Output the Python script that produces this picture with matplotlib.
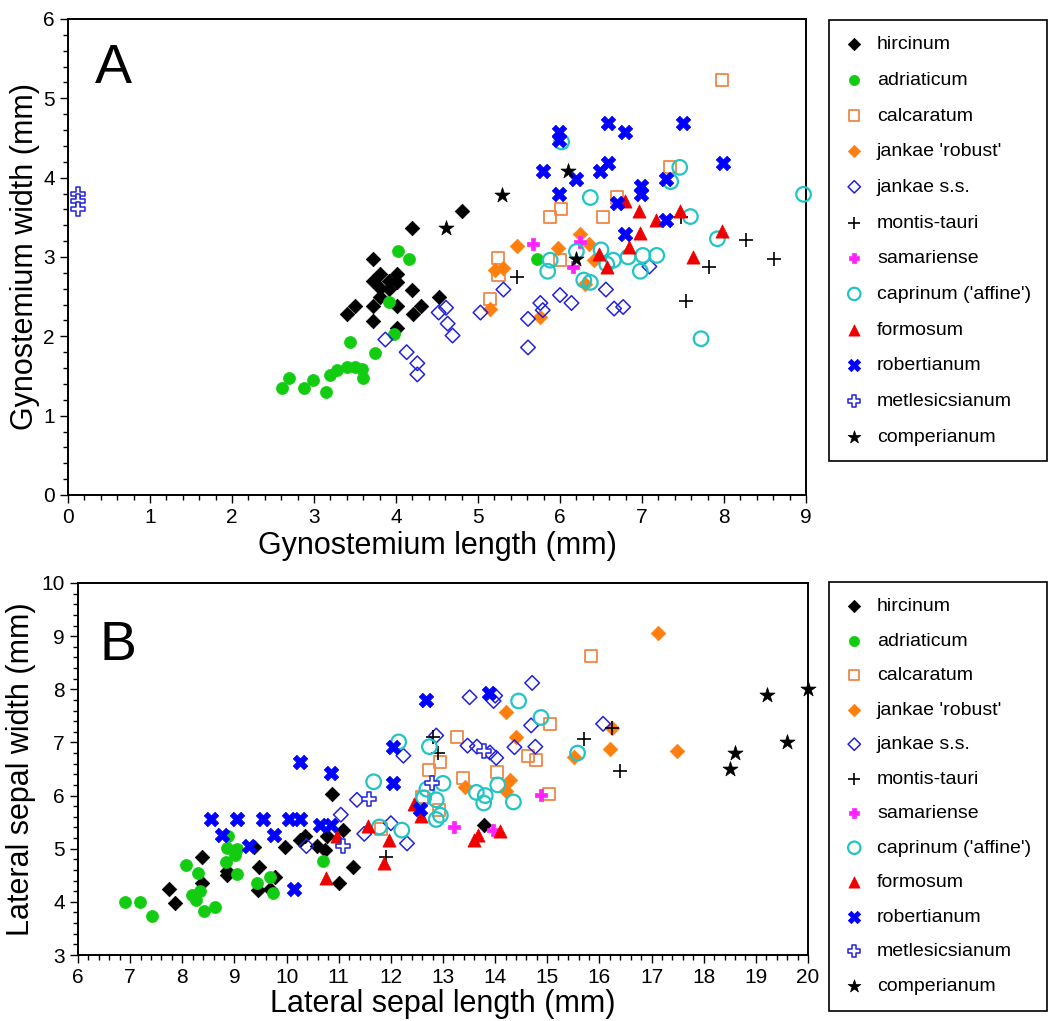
import matplotlib.pyplot as plt
from matplotlib.ticker import MultipleLocator

plt.rcParams['font.family'] = ['Liberation Sans', 'DejaVu Sans']

# ---- data: panel A (gynostemium length / width, mm) ----
hircinum_A_x = [4.80, 4.20, 3.72, 3.80, 4.01, 3.72, 3.91, 4.01, 3.80, 3.91, 4.20, 3.80, 4.01, 3.72, 3.50, 3.40, 4.30, 4.21, 4.52, 3.72, 4.01]
hircinum_A_y = [3.58, 3.37, 2.97, 2.79, 2.78, 2.70, 2.70, 2.69, 2.61, 2.60, 2.59, 2.49, 2.38, 2.38, 2.38, 2.28, 2.38, 2.28, 2.49, 2.19, 2.10]
adriaticum_A_x = [4.02, 4.16, 3.91, 3.98, 3.44, 3.74, 3.20, 3.28, 3.40, 3.50, 3.58, 3.60, 3.15, 2.99, 2.88, 2.69, 2.61, 5.72]
adriaticum_A_y = [3.07, 2.97, 2.43, 2.03, 1.93, 1.79, 1.51, 1.58, 1.61, 1.61, 1.59, 1.48, 1.30, 1.45, 1.35, 1.47, 1.35, 2.97]
calcaratum_A_x = [7.98, 7.34, 6.70, 6.01, 5.88, 6.52, 5.24, 6.00, 5.25, 5.15]
calcaratum_A_y = [5.23, 4.13, 3.75, 3.61, 3.50, 3.51, 2.99, 2.96, 2.77, 2.47]
robust_A_x = [5.48, 5.98, 6.24, 6.35, 6.41, 5.21, 5.30, 5.15, 5.76, 6.30]
robust_A_y = [3.14, 3.11, 3.29, 3.17, 2.96, 2.84, 2.86, 2.35, 2.24, 2.66]
jankae_A_x = [3.87, 4.13, 4.26, 4.26, 4.52, 4.61, 4.63, 4.69, 5.03, 5.31, 5.61, 5.61, 5.76, 5.79, 6.00, 6.14, 6.56, 6.66, 6.77, 7.09]
jankae_A_y = [1.96, 1.80, 1.66, 1.52, 2.30, 2.36, 2.16, 2.01, 2.30, 2.59, 2.22, 1.86, 2.42, 2.33, 2.52, 2.42, 2.59, 2.35, 2.37, 2.88]
montis_A_x = [5.48, 7.48, 8.27, 8.61, 7.82, 7.54]
montis_A_y = [2.75, 3.51, 3.21, 2.98, 2.87, 2.44]
samariense_A_x = [5.67, 6.24, 6.16]
samariense_A_y = [3.17, 3.19, 2.88]
caprinum_A_x = [6.02, 7.46, 7.35, 6.37, 7.59, 7.92, 8.97, 7.72, 5.88, 5.85, 6.20, 6.50, 6.65, 6.57, 6.83, 7.01, 7.18, 6.98, 6.29, 6.37]
caprinum_A_y = [4.45, 4.13, 3.95, 3.75, 3.51, 3.23, 3.79, 1.97, 2.96, 2.82, 3.07, 3.09, 2.96, 2.91, 3.00, 3.02, 3.02, 2.82, 2.71, 2.68]
formosum_A_x = [6.79, 6.96, 7.17, 7.46, 6.97, 6.84, 7.97, 6.48, 6.57, 7.62]
formosum_A_y = [3.70, 3.58, 3.47, 3.58, 3.30, 3.13, 3.33, 3.04, 2.87, 3.00]
robertianum_A_x = [5.99, 5.99, 6.59, 6.79, 7.50, 7.99, 5.79, 6.20, 6.49, 6.59, 5.99, 6.99, 6.99, 7.29, 6.69, 7.29, 6.79]
robertianum_A_y = [4.58, 4.47, 4.69, 4.58, 4.69, 4.18, 4.09, 3.98, 4.09, 4.18, 3.79, 3.89, 3.79, 3.98, 3.68, 3.47, 3.29]
metlesics_A_x = [0.12, 0.12, 0.12]
metlesics_A_y = [3.80, 3.70, 3.60]
comperianum_A_x = [4.61, 5.29, 6.10, 6.20]
comperianum_A_y = [3.37, 3.78, 4.09, 2.97]

# ---- data: panel B (lateral sepal length / width, mm) ----
hircinum_B_x = [10.87, 10.36, 10.25, 10.77, 10.58, 10.74, 11.08, 9.97, 9.38, 8.37, 9.48, 8.85, 8.85, 9.78, 8.37, 9.46, 9.69, 7.75, 7.86, 11.27, 11.00, 13.78]
hircinum_B_y = [6.03, 5.23, 5.16, 5.23, 5.06, 4.97, 5.36, 5.03, 5.03, 4.84, 4.66, 4.59, 4.50, 4.47, 4.35, 4.22, 4.25, 4.25, 3.97, 4.66, 4.35, 5.45]
adriaticum_B_x = [8.88, 8.86, 9.05, 9.01, 8.84, 9.05, 8.07, 8.30, 9.69, 9.43, 9.74, 8.34, 8.18, 8.26, 8.63, 8.42, 7.41, 7.18, 6.90, 10.70]
adriaticum_B_y = [5.23, 5.02, 5.00, 4.88, 4.75, 4.53, 4.69, 4.54, 4.47, 4.35, 4.16, 4.20, 4.13, 4.03, 3.91, 3.83, 3.74, 4.00, 3.99, 4.76]
calcaratum_B_x = [15.83, 15.06, 13.27, 14.63, 14.79, 12.95, 12.74, 14.04, 13.38, 15.04, 12.60, 12.93, 11.81]
calcaratum_B_y = [8.62, 7.35, 7.10, 6.75, 6.67, 6.64, 6.49, 6.44, 6.33, 6.03, 5.98, 5.72, 5.38]
robust_B_x = [14.20, 14.40, 14.28, 14.21, 13.42, 16.20, 15.51, 16.24, 17.12, 17.48]
robust_B_y = [7.58, 7.11, 6.30, 6.08, 6.17, 6.88, 6.73, 7.28, 9.05, 6.83]
jankae_B_x = [14.71, 13.51, 14.00, 13.97, 14.69, 16.07, 12.87, 12.24, 13.47, 13.65, 13.90, 14.02, 14.37, 14.77, 12.00, 11.49, 12.31, 11.04, 11.35, 10.38]
jankae_B_y = [8.12, 7.85, 7.88, 7.78, 7.32, 7.35, 7.13, 6.75, 6.94, 6.92, 6.81, 6.71, 6.91, 6.92, 5.48, 5.28, 5.10, 5.64, 5.92, 5.05]
montis_B_x = [15.70, 16.40, 16.24, 12.81, 12.90, 11.90]
montis_B_y = [7.07, 6.47, 7.28, 7.11, 6.80, 4.85]
samariense_B_x = [14.87, 13.22, 13.96]
samariense_B_y = [6.01, 5.41, 5.36]
caprinum_B_x = [14.45, 14.88, 12.15, 12.74, 13.00, 12.69, 11.67, 14.05, 13.64, 13.81, 13.78, 14.35, 12.87, 12.63, 12.95, 12.87, 12.21, 11.78, 15.58]
caprinum_B_y = [7.78, 7.47, 7.01, 6.92, 6.23, 6.12, 6.26, 6.20, 6.06, 6.00, 5.86, 5.88, 5.92, 5.96, 5.63, 5.55, 5.35, 5.41, 6.80]
formosum_B_x = [10.96, 10.76, 11.57, 12.44, 12.57, 11.97, 13.59, 13.68, 14.09, 11.86]
formosum_B_y = [5.23, 4.45, 5.43, 5.85, 5.61, 5.16, 5.16, 5.25, 5.33, 4.74]
robertianum_B_x = [10.25, 10.85, 8.55, 9.05, 9.54, 10.04, 10.26, 10.64, 10.85, 8.76, 9.75, 9.27, 10.15, 12.68, 13.88, 12.05, 12.05, 12.56]
robertianum_B_y = [6.63, 6.43, 5.55, 5.55, 5.55, 5.55, 5.55, 5.44, 5.44, 5.25, 5.25, 5.06, 4.25, 7.80, 7.93, 6.92, 6.23, 5.75]
metlesics_B_x = [11.59, 11.08, 13.78, 12.78]
metlesics_B_y = [5.93, 5.05, 6.83, 6.23]
comperianum_B_x = [19.21, 20.0, 19.60, 18.60, 18.50]
comperianum_B_y = [7.90, 8.00, 7.00, 6.80, 6.50]

labels = ['hircinum', 'adriaticum', 'calcaratum', "jankae 'robust'", 'jankae s.s.', 'montis-tauri',
          'samariense', "caprinum ('affine')", 'formosum', 'robertianum', 'metlesicsianum', 'comperianum']

# marker, facecolor, edgecolor, size, linewidth
styles = [
    ('D', 'black', 'black', 55, 0.5),
    ('o', '#11cc11', '#11cc11', 75, 0.5),
    ('s', 'none', '#f08848', 75, 1.3),
    ('D', '#ff7f0e', '#ff7f0e', 55, 0.5),
    ('D', 'none', '#2222dd', 55, 1.1),
    ('+', 'black', 'black', 110, 1.2),
    ('P', '#ff22ff', '#ff22ff', 70, 0.5),
    ('o', 'none', '#22c4c4', 110, 1.6),
    ('^', '#ee0000', '#ee0000', 90, 0.5),
    ('X', '#0000ff', '#0000ff', 110, 0.5),
    ('P', 'white', '#2222dd', 110, 1.1),
    ('*', 'black', 'black', 130, 0.5),
]

data_A = [(hircinum_A_x, hircinum_A_y), (adriaticum_A_x, adriaticum_A_y), (calcaratum_A_x, calcaratum_A_y),
          (robust_A_x, robust_A_y), (jankae_A_x, jankae_A_y), (montis_A_x, montis_A_y),
          (samariense_A_x, samariense_A_y), (caprinum_A_x, caprinum_A_y), (formosum_A_x, formosum_A_y),
          (robertianum_A_x, robertianum_A_y), (metlesics_A_x, metlesics_A_y), (comperianum_A_x, comperianum_A_y)]
data_B = [(hircinum_B_x, hircinum_B_y), (adriaticum_B_x, adriaticum_B_y), (calcaratum_B_x, calcaratum_B_y),
          (robust_B_x, robust_B_y), (jankae_B_x, jankae_B_y), (montis_B_x, montis_B_y),
          (samariense_B_x, samariense_B_y), (caprinum_B_x, caprinum_B_y), (formosum_B_x, formosum_B_y),
          (robertianum_B_x, robertianum_B_y), (metlesics_B_x, metlesics_B_y), (comperianum_B_x, comperianum_B_y)]

W, H = 1057, 1021
fig = plt.figure(figsize=(W / 100, H / 100), dpi=100)
axA = fig.add_axes([68 / W, 1 - 495 / H, 738 / W, 476 / H])
axB = fig.add_axes([78 / W, 1 - 955 / H, 730 / W, 372 / H])


def draw(ax, data):
    handles = []
    for (xs, ys), (m, fc, ec, s, lw), lab in zip(data, styles, labels):
        if m == '+':
            h = ax.scatter(xs, ys, marker=m, s=s, c=ec, linewidths=lw, label=lab, clip_on=False, zorder=3)
        else:
            h = ax.scatter(xs, ys, marker=m, s=s, facecolors=fc, edgecolors=ec, linewidths=lw,
                           label=lab, clip_on=False, zorder=3)
        handles.append(h)
    for sp in ax.spines.values():
        sp.set_linewidth(1.4)
    ax.tick_params(which='both', direction='out', top=False, right=False, labelsize=15, width=1)
    ax.tick_params(which='major', length=6)
    ax.tick_params(which='minor', length=3.5)
    return handles


hA = draw(axA, data_A)
axA.set_xlim(0, 9)
axA.set_ylim(0, 6)
axA.xaxis.set_major_locator(MultipleLocator(1))
axA.xaxis.set_minor_locator(MultipleLocator(0.2))
axA.yaxis.set_major_locator(MultipleLocator(1))
axA.yaxis.set_minor_locator(MultipleLocator(0.2))
axA.set_xlabel('Gynostemium length (mm)', fontsize=22, labelpad=3)
axA.set_ylabel('Gynostemium width (mm)', fontsize=22, labelpad=2)
axA.text(0.037, 0.95, 'A', transform=axA.transAxes, fontsize=40, va='top', ha='left')

hB = draw(axB, data_B)
axB.set_xlim(6, 20)
axB.set_ylim(3, 10)
axB.xaxis.set_major_locator(MultipleLocator(1))
axB.xaxis.set_minor_locator(MultipleLocator(0.2))
axB.yaxis.set_major_locator(MultipleLocator(1))
axB.yaxis.set_minor_locator(MultipleLocator(0.2))
axB.set_xlabel('Lateral sepal length (mm)', fontsize=22, labelpad=1)
axB.set_ylabel('Lateral sepal width (mm)', fontsize=22, labelpad=4)
axB.text(0.03, 0.90, 'B', transform=axB.transAxes, fontsize=40, va='top', ha='left')

# legend boxes to the right of each panel
for hs, top, spacing in [(hA, 20, 0.93), (hB, 582, 0.87)]:
    leg = fig.legend(handles=hs, loc='upper left', bbox_to_anchor=(829 / W, 1 - top / H),
                     bbox_transform=fig.transFigure, borderaxespad=0, fontsize=14,
                     labelspacing=spacing, handlelength=1.0, handletextpad=0.67, borderpad=0.8,
                     fancybox=False, framealpha=1, scatterpoints=1, markerscale=0.85)
    leg.get_frame().set_edgecolor('black')
    leg.get_frame().set_linewidth(1.2)

fig.savefig('out.png', dpi=100)
